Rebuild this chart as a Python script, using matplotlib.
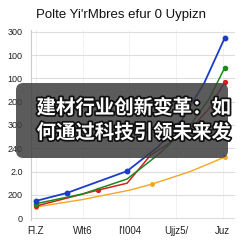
import matplotlib
matplotlib.use("Agg")
import matplotlib.pyplot as plt
import matplotlib.patheffects as pe
from matplotlib.patches import FancyBboxPatch

# chart data
title = "Polte Yi'rMbres efur 0 Uypizn"
x_labels = ["Fl.Z", "Wlt6", "I'I004", "Ujjz5/", "Juz"]
y_ticks = [0, 50, 100, 150, 200, 250, 300, 350, 400]
y_labels = ["0", "200", "2.0", "240", "300", "200", "100", "100", "300"]

blue_x = [0, 0.66, 1.95, 2.6, 3.07, 3.6, 4.04]
blue_y = [37, 54, 101, 152, 202, 290, 387]
green_x = [0, 1.0, 1.95, 2.6, 3.3, 3.7, 4.04]
green_y = [31, 52, 84, 135, 200, 255, 323]
red_x = [0, 1.32, 1.95, 2.45, 3.3, 3.7, 4.04]
red_y = [26, 60, 75, 135, 190, 235, 292]
orange_x = [0, 1.0, 2.0, 2.48, 3.3, 4.04]
orange_y = [24, 40, 60, 73, 100, 131]

headline = ["建材行业创新变革：如", "何通过科技引领未来发"]

fig = plt.figure(figsize=(2.43, 2.43), dpi=100)
ax = fig.add_axes([31/243, 23/243, 204/243, 190/243])

ax.plot(orange_x, orange_y, color="#f5a623", lw=1.0, marker="o", ms=2.5, markevery=[0, 3, 5])
ax.plot(red_x, red_y, color="#d42020", lw=1.1, marker="o", ms=2.8, markevery=[0, 1, 6])
ax.plot(green_x, green_y, color="#1a8a1a", lw=1.1, marker="o", ms=3, markevery=[0, 6])
ax.plot(blue_x, blue_y, color="#1c3cc4", lw=1.3, marker="o", ms=3.2, markevery=[0, 1, 2, 4, 6])

ax.set_xlim(-0.107, 4.26)
ax.set_ylim(-4, 404)
ax.set_xticks(range(len(x_labels)))
ax.set_xticklabels(x_labels, fontsize=7, family="Liberation Sans", color="#222222")
ax.set_yticks(y_ticks)
ax.set_yticklabels(y_labels, fontsize=6.5, family="Liberation Sans", color="#222222")
ax.tick_params(axis="both", length=0, pad=6)
ax.tick_params(axis="x", pad=4)
ax.grid(axis="y", color="#dddddd", lw=0.8)
ax.grid(axis="x", color="#f0f0f0", lw=0.6)
for s in ["top", "right", "bottom"]:
    ax.spines[s].set_visible(False)
ax.spines["left"].set_color("#cccccc")
ax.spines["left"].set_linewidth(0.8)

fig.text(121/243, 1 - 15/243, title, ha="center", va="center",
         fontsize=9.5, family="Liberation Sans", color="#111111")

# overlay banner
box = FancyBboxPatch((16/243, 1 - 158/243), 212/243, 75/243,
                     boxstyle="round,pad=0,rounding_size=0.03",
                     transform=fig.transFigure, facecolor="#3e3e3e",
                     edgecolor="none", alpha=0.85, zorder=5)
fig.patches.append(box)
for i, line in enumerate(headline):
    fig.text(134/243, 1 - (108 + 25*i)/243, line, ha="center", va="center",
             fontsize=14, fontweight="bold", color="white",
             family=["Noto Sans CJK SC", "DejaVu Sans"], zorder=6,
             path_effects=[pe.withStroke(linewidth=2.5, foreground="#111111")])

fig.savefig("out.png", dpi=100)
